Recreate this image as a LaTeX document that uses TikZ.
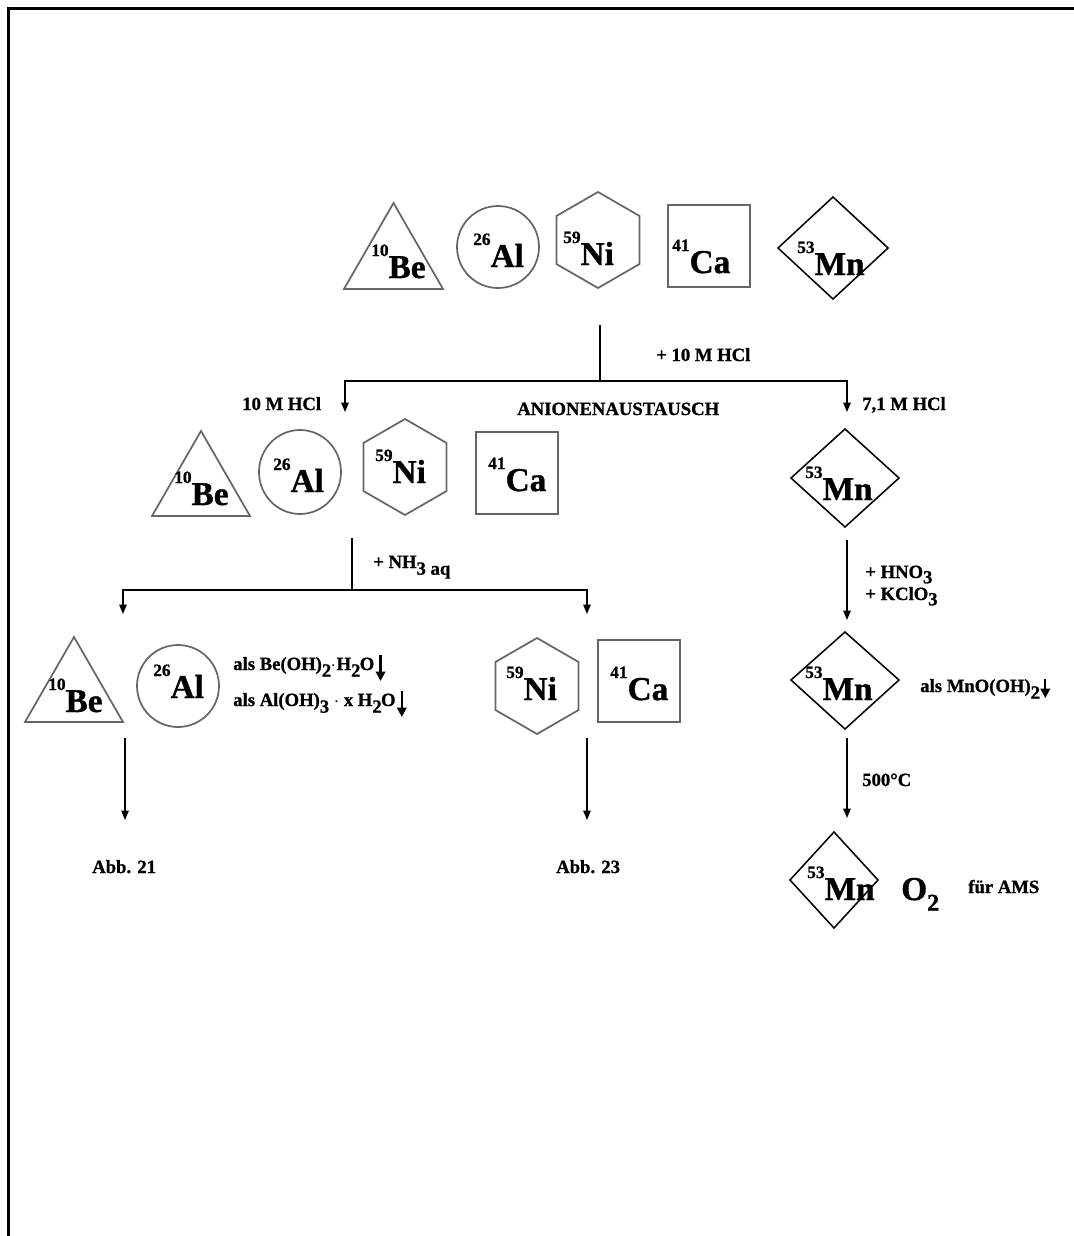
\documentclass[tikz,border=0pt]{standalone}
\usepackage{fontspec}
\setmainfont{Liberation Serif}[BoldFeatures={FakeBold=1}]
\usetikzlibrary{arrows.meta,calc}

\definecolor{shapegray}{HTML}{666666}

% isotope label: mass number raised before the element symbol
\newcommand\isot[2]{\bfseries\raisebox{16.5pt}{\fontsize{13}{13}\selectfont#1}{\fontsize{25}{25}\selectfont#2}}
% lowered index at full label size
\newcommand\lowidx[1]{\raisebox{-5pt}{#1}}
\newcommand\lowidxs[1]{\raisebox{-4pt}{#1}}

\tikzset{
  gshape/.style={draw=shapegray, line width=1.3pt},
  kshape/.style={draw=black, line width=1.15pt, line join=miter},
  lab/.style={inner sep=0pt, anchor=base west, font=\fontsize{14}{16}\selectfont\bfseries},
  iso/.style={inner sep=0pt, anchor=base west, font=\bfseries},
  link/.style={line width=1.2pt},
  arr/.style={line width=1.2pt, -{Triangle[length=7pt,width=5.5pt]}},
  parr/.style={line width=1.7pt, -{Triangle[length=7pt,width=7pt]}},
}

\begin{document}
\begin{tikzpicture}[x=0.75pt,y=-0.75pt]
\useasboundingbox (0,0) rectangle (1074,1236);

% page frame
\draw[line width=1.6pt] (1074,8.5) -- (8.5,8.5) -- (8.5,1236);

% ---------- first row: all five nuclides ----------
\draw[gshape] (344,289) -- (393.5,203) -- (443,289) -- cycle;
\draw[gshape] (498,247) ellipse [x radius=30.75pt, y radius=30.75pt];
\draw[gshape] (598,192) -- (639.6,216) -- (639.6,264) -- (598,288) -- (556.4,264) -- (556.4,216) -- cycle;
\draw[gshape] (668,205) rectangle (750,287);
\draw[kshape] (778,248) -- (833,197) -- (888,248) -- (833,299) -- cycle;

\node[iso] (be1) at (371,278) {\isot{10}{Be}};
\node[iso] (al1) at (473,267) {\isot{26}{Al}};
\node[iso] (ni1) at (563,265) {\isot{59}{Ni}};
\node[iso] (ca1) at (672,273) {\isot{41}{Ca}};
\node[iso] (mn1) at (797,275) {\isot{53}{Mn}};

% anion exchange split
\coordinate (s1) at (600,325);
\coordinate (j1) at (600,381);
\coordinate (l1) at (345,412);
\coordinate (r1) at (847,412);
\draw[link] (s1) -- (j1);
\draw[arr] (j1) -| (l1);
\draw[arr] (j1) -| (r1);

\node[lab] (hcl) at (656,361) {+ 10 M HCl};
\node[lab] (hcl10) at (242,410) {10 M HCl};
\node[lab] (anion) at (517,415) {ANIONENAUSTAUSCH};
\node[lab] (hcl71) at (862,410) {7,1 M HCl};

% ---------- second row ----------
\draw[gshape] (152,516) -- (201,431) -- (250,516) -- cycle;
\draw[gshape] (300,472) ellipse [x radius=30.75pt, y radius=31.5pt];
\draw[gshape] (405,419) -- (446.6,443) -- (446.6,491) -- (405,515) -- (363.4,491) -- (363.4,443) -- cycle;
\draw[gshape] (476,432) rectangle (558,514);
\draw[kshape] (791,478) -- (845,429) -- (899,478) -- (845,527) -- cycle;

\node[iso] (be2) at (174,505) {\isot{10}{Be}};
\node[iso] (al2) at (273,492) {\isot{26}{Al}};
\node[iso] (ni2) at (375,483) {\isot{59}{Ni}};
\node[iso] (ca2) at (488,491) {\isot{41}{Ca}};
\node[iso] (mn2) at (805,500) {\isot{53}{Mn}};

% ammonia precipitation split
\coordinate (s2) at (352,538);
\coordinate (j2) at (352,590);
\coordinate (l2) at (123,614);
\coordinate (r2) at (587,614);
\draw[link] (s2) -- (j2);
\draw[arr] (j2) -| (l2);
\draw[arr] (j2) -| (r2);
\node[lab] (nh3) at (373,568) {+ NH\lowidx{3 aq}};

% manganese oxidation step
\coordinate (s3) at (847,540);
\coordinate (e3) at (847,620);
\draw[arr] (s3) -- (e3);
\node[lab] (hno3) at (865,578) {+ HNO\lowidxs{3}};
\node[lab] (kclo3) at (865,600) {+ KClO\lowidxs{3}};

% ---------- third row ----------
\draw[gshape] (25,722) -- (74,637) -- (123,722) -- cycle;
\draw[gshape] (178,686) ellipse [x radius=30.75pt, y radius=30.75pt];
\draw[gshape] (537,638) -- (578.6,662) -- (578.6,710) -- (537,734) -- (495.4,710) -- (495.4,662) -- cycle;
\draw[gshape] (598,640) rectangle (680,722);
\draw[kshape] (791,680) -- (845,632) -- (899,680) -- (845,729) -- cycle;

\node[iso] (be3) at (48,712) {\isot{10}{Be}};
\node[iso] (al3) at (153,698) {\isot{26}{Al}};
\node[iso] (ni3) at (506,700) {\isot{59}{Ni}};
\node[iso] (ca3) at (610,700) {\isot{41}{Ca}};
\node[iso] (mn3) at (805,700) {\isot{53}{Mn}};

% precipitates, each with its settling arrow
\node[lab] (beoh) at (233,670) {als Be(OH)\lowidx{2}\kern-0.5pt$\cdot$\kern0.5pt H\lowidx{2}\kern-0.5pt O};
\node[lab] (aloh) at (233,706) {als Al(OH)\lowidx{3} $\cdot$ x H\lowidx{2}\kern-0.5pt O};
\node[lab] (mnoh) at (920,692) {als MnO(OH)\lowidx{2}};
\coordinate (bt) at ($(beoh.base east)+(6,-15)$);
\coordinate (bb) at ($(beoh.base east)+(6,11)$);
\coordinate (at) at ($(aloh.base east)+(6,-15)$);
\coordinate (ab) at ($(aloh.base east)+(6,11)$);
\coordinate (mt) at ($(mnoh.base east)+(5,-13)$);
\coordinate (mb) at ($(mnoh.base east)+(5,6)$);
\draw[parr] (bt) -- (bb);
\draw[parr] (at) -- (ab);
\draw[parr] (mt) -- (mb);

% ---------- final steps ----------
\coordinate (a1) at (125,738);
\coordinate (a1e) at (125,820);
\coordinate (a2) at (587,738);
\coordinate (a2e) at (587,820);
\coordinate (a3) at (847,738);
\coordinate (a3e) at (847,818);
\draw[arr] (a1) -- (a1e);
\draw[arr] (a2) -- (a2e);
\draw[arr] (a3) -- (a3e);
\node[lab] (heat) at (862,786) {500°C};

\node[lab] (abb21) at (92,873) {Abb. 21};
\node[lab] (abb23) at (556,873) {Abb. 23};

\draw[kshape] (790,880) -- (834,832) -- (878,880) -- (834,928) -- cycle;
\node[iso] (mn4) at (807,900) {\isot{53}{Mn}};
\node[iso] (oxy) at (901,900) {{\fontsize{25}{25}\selectfont O}\raisebox{-8pt}{\fontsize{18}{18}\selectfont 2}};
\node[lab] (ams) at (968,893) {für AMS};
\end{tikzpicture}
\end{document}
